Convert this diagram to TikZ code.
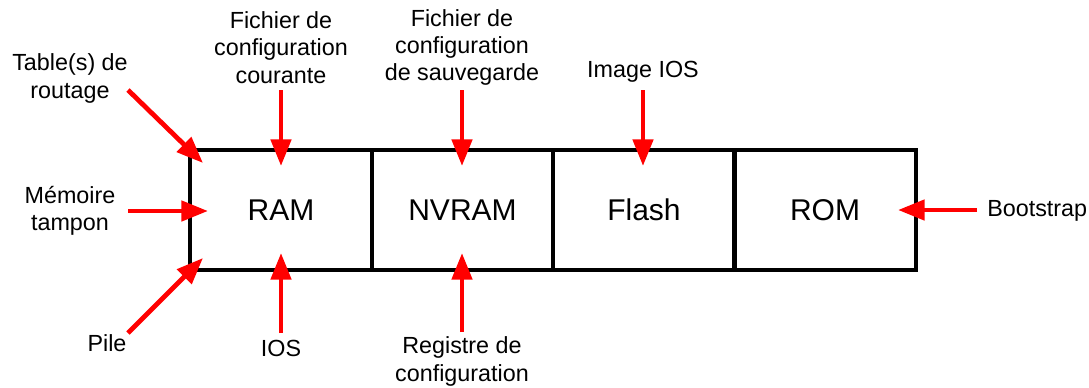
\documentclass[tikz,border=0pt]{standalone}
\usepackage{fontspec}
\setmainfont{Liberation Sans}
\usetikzlibrary{arrows.meta}
\tikzset{
  cell/.style={draw=black, line width=3pt, minimum width=136pt, minimum height=90pt, inner sep=0pt, font=\fontsize{22.5}{26}\selectfont},
  lbl/.style={align=center, inner sep=0pt, font=\fontsize{17.5}{20.5}\selectfont},
  redarrow/.style={draw=red, line width=3.6pt, -{Triangle[length=20pt,width=15pt]}}
}
\begin{document}
\begin{tikzpicture}[x=0.75pt,y=-0.75pt]
\useasboundingbox (0,0) rectangle (1089,387);
% cells
\node[cell] (ram) at (281,210) {RAM};
\node[cell] (nvram) at (462.5,210) {NVRAM};
\node[cell] (flash) at (644,210) {Flash};
\node[cell] (rom) at (825,210) {ROM};
% labels
\node[lbl] (fcc) at (281,47.5) {Fichier de\\configuration\\courante};
\node[lbl] (fcs) at (462,47.5) {Fichier de\\configuration\\de sauvegarde};
\node[lbl] (img) at (643,72) {Image IOS};
\node[lbl] (tab) at (70,78.5) {Table(s) de\\routage};
\node[lbl] (mem) at (70,211) {Mémoire\\tampon};
\node[lbl] (pile) at (107,343) {Pile};
\node[lbl] (ios) at (281,348) {IOS};
\node[lbl] (reg) at (462,361.5) {Registre de\\configuration};
\node[lbl, anchor=west] (boot) at (987,211) {Bootstrap};
% arrow endpoints
\coordinate (fccS) at (281,90);   \coordinate (fccT) at (281,166);
\coordinate (fcsS) at (462,90);   \coordinate (fcsT) at (462,166);
\coordinate (imgS) at (643,90);   \coordinate (imgT) at (643,166);
\coordinate (tabS) at (128,90);   \coordinate (tabT) at (203,163);
\coordinate (memS) at (128,211);  \coordinate (memT) at (208,211);
\coordinate (pileS) at (128,333); \coordinate (pileT) at (203,258);
\coordinate (iosS) at (281,333);  \coordinate (iosT) at (281,253);
\coordinate (regS) at (462,332);  \coordinate (regT) at (462,253);
\coordinate (bootS) at (977,210); \coordinate (bootT) at (898,210);
% arrows
\draw[redarrow] (fccS) -- (fccT);
\draw[redarrow] (fcsS) -- (fcsT);
\draw[redarrow] (imgS) -- (imgT);
\draw[redarrow] (tabS) -- (tabT);
\draw[redarrow] (memS) -- (memT);
\draw[redarrow] (pileS) -- (pileT);
\draw[redarrow] (iosS) -- (iosT);
\draw[redarrow] (regS) -- (regT);
\draw[redarrow] (bootS) -- (bootT);
\end{tikzpicture}
\end{document}
